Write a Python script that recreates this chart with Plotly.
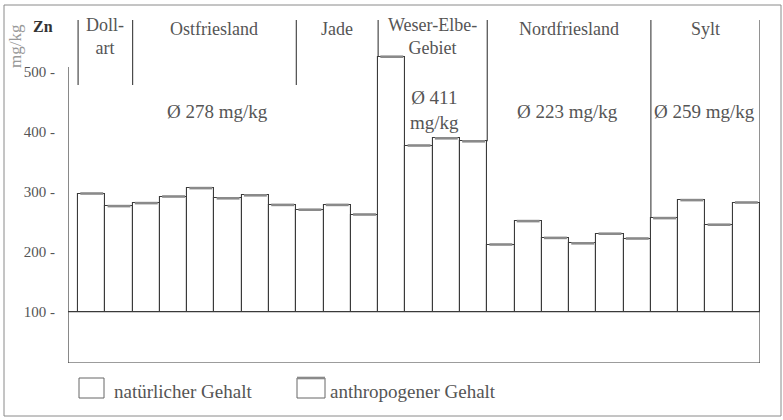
import plotly.graph_objects as go

# Zinc content per sampling station, grouped by coastal region
region_labels = ["Doll-<br>art", "Ostfriesland", "Jade",
                 "Weser-Elbe-<br>Gebiet", "Nordfriesland", "Sylt"]
region_sizes = [2, 6, 3, 4, 6, 4]
zn_values = [297, 276,
             281, 292, 306, 289, 294, 278,
             270, 278, 262,
             525, 377, 389, 384,
             212, 251, 223, 214, 230, 222,
             256, 286, 245, 282]
# mean values stated for combined region blocks (number of regions per block)
mean_blocks = [3, 1, 1, 1]
mean_labels = ["Ø 278 mg/kg", "Ø 411<br>mg/kg", "Ø 223 mg/kg", "Ø 259 mg/kg"]
tick_values = [100, 200, 300, 400, 500]
base_value = 100

Y_MIN, Y_MAX = 14.5, 589.5
X_MIN, X_MAX = -0.87, len(zn_values) - 0.5
TEXT = "#555555"
LINE = "#3a3a3a"
SERIF = "'Liberation Serif', 'Times New Roman', 'DejaVu Serif', serif"

x = list(range(len(zn_values)))

fig = go.Figure()
fig.add_trace(go.Bar(
    x=x, y=[v - base_value for v in zn_values], base=[base_value] * len(zn_values),
    width=1.0, marker=dict(color="white", line=dict(color=LINE, width=1.1)),
    showlegend=False, hoverinfo="skip",
))

shapes = []
# grey cap marking the top of each bar
for i, v in enumerate(zn_values):
    shapes.append(dict(type="line", xref="x", yref="y", x0=i - 0.42, x1=i + 0.42,
                       y0=v, y1=v, line=dict(color="#8a8a8a", width=2.6)))

# region boundaries
bounds = [-0.5]
for s in region_sizes:
    bounds.append(bounds[-1] + s)
block_ends = []
acc = 0
for n in mean_blocks:
    acc += n
    block_ends.append(acc)

header_top = 586
for k, b in enumerate(bounds):
    if k in block_ends and k < len(bounds) - 1:
        left = zn_values[int(b - 0.5)]
        right = zn_values[int(b + 0.5)]
        y_low = max(left, right)
    elif k == len(bounds) - 1:
        y_low = Y_MIN
    else:
        y_low = 478
    shapes.append(dict(type="line", xref="x", yref="y", x0=b, x1=b,
                       y0=y_low, y1=header_top, line=dict(color=LINE, width=1.1)))

# axis frame: left axis, baseline at 100, bottom line
shapes += [
    dict(type="line", xref="x", yref="y", x0=X_MIN, x1=X_MIN, y0=Y_MIN, y1=508,
         line=dict(color=LINE, width=1.2)),
    dict(type="line", xref="x", yref="y", x0=X_MIN, x1=X_MAX, y0=base_value, y1=base_value,
         line=dict(color=LINE, width=1.2)),
    dict(type="line", xref="x", yref="y", x0=X_MIN, x1=X_MAX, y0=Y_MIN, y1=Y_MIN,
         line=dict(color=LINE, width=1.2)),
]

# outer frame
W, H, L, R, T, B = 783, 420, 68, 23, 18, 57
pw, ph = W - L - R, H - T - B


def px(xp):
    return (xp - L) / pw


def py(yp):
    return (H - B - yp) / ph


shapes.append(dict(type="rect", xref="paper", yref="paper",
                   x0=px(4), x1=px(781), y0=py(5), y1=py(416),
                   line=dict(color="#8a8a8a", width=1)))

# legend boxes
shapes += [
    dict(type="rect", xref="paper", yref="paper", x0=px(79), x1=px(104), y0=py(398), y1=py(378),
         line=dict(color="#666666", width=1), fillcolor="white"),
    dict(type="rect", xref="paper", yref="paper", x0=px(297), x1=px(325), y0=py(398), y1=py(378),
         line=dict(color="#666666", width=1), fillcolor="white"),
    dict(type="line", xref="paper", yref="paper", x0=px(297), x1=px(325), y0=py(378), y1=py(378),
         line=dict(color="#8a8a8a", width=2.6)),
]

annotations = []
# region names
for k, t in enumerate(region_labels):
    cx = (bounds[k] + bounds[k + 1]) / 2
    two = "<br>" in t
    annotations.append(dict(x=cx, y=558 if two else 572, xref="x", yref="y", text=t,
                            xanchor="center", yanchor="middle", showarrow=False,
                            font=dict(family=SERIF, size=18, color=TEXT)))

# mean labels
mean_pos = [(4.6, 434), (12.55, 437), (17.46, 434), (22.48, 434)]
for (cx, yv), t in zip(mean_pos, mean_labels):
    annotations.append(dict(x=cx, y=yv, xref="x", yref="y", text=t,
                            xanchor="center", yanchor="middle", showarrow=False,
                            font=dict(family=SERIF, size=19, color=TEXT)))

annotations += [
    dict(x=px(43), y=py(27), xref="paper", yref="paper", text="<b>Zn</b>", showarrow=False,
         xanchor="center", yanchor="middle", font=dict(family=SERIF, size=16, color="#333333")),
    dict(x=px(15), y=py(46), xref="paper", yref="paper", text="mg/kg", textangle=-90,
         xanchor="center", yanchor="middle", showarrow=False,
         font=dict(family=SERIF, size=17, color="#999999")),
    dict(x=px(112), y=py(391), xref="paper", yref="paper", text="natürlicher Gehalt",
         xanchor="left", yanchor="middle", showarrow=False,
         font=dict(family=SERIF, size=19, color=TEXT)),
    dict(x=px(328), y=py(391), xref="paper", yref="paper", text="anthropogener Gehalt",
         xanchor="left", yanchor="middle", showarrow=False,
         font=dict(family=SERIF, size=19, color=TEXT)),
]

fig.update_layout(
    width=W, height=H, margin=dict(l=L, r=R, t=T, b=B),
    paper_bgcolor="white", plot_bgcolor="white", bargap=0,
    shapes=shapes, annotations=annotations, showlegend=False,
    xaxis=dict(range=[X_MIN, X_MAX], showgrid=False, zeroline=False, showline=False,
               showticklabels=False, ticks=""),
    yaxis=dict(range=[Y_MIN, Y_MAX], showgrid=False, zeroline=False, showline=False,
               tickvals=tick_values, ticktext=[f"{v} -" for v in tick_values], ticks="",
               ticklabelstandoff=12,
               tickfont=dict(family=SERIF, size=15, color=TEXT)),
)

fig.write_html("out.html")
